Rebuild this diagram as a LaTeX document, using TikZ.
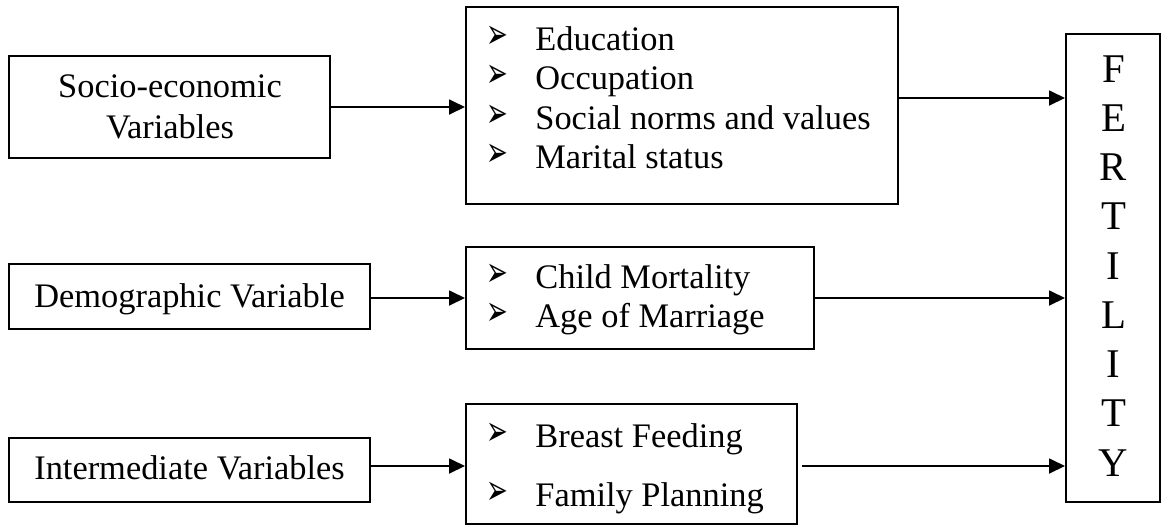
\documentclass[tikz,border=0pt]{standalone}
\usepackage{fontspec}
\usepackage{graphicx}
\setmainfont{Liberation Serif}
\newfontfamily\dejavu{DejaVu Sans}
\usetikzlibrary{arrows.meta,fit}
\begin{document}
\begin{tikzpicture}[x=0.5pt,y=-0.5pt,
  box/.style={draw, line width=1pt, inner sep=0pt, rectangle},
  txt/.style={anchor=base, inner sep=0pt, font=\fontsize{17.2pt}{19.8pt}\selectfont},
  ltxt/.style={txt, anchor=base west},
  bul/.style={inner sep=0pt, anchor=center, font=\dejavu\fontsize{10pt}{12pt}\selectfont},
  arr/.style={-{Triangle[length=8pt,width=7.5pt]}, line width=0.9pt},
  fert/.style={anchor=base, inner sep=0pt, font=\fontsize{20.4pt}{24pt}\selectfont}]
\useasboundingbox (0,0) rectangle (1162,527);
% boxes
\node[box, fit={(9,56) (330,158)}] (A) {};
\node[box, fit={(466,7) (898,204)}] (B) {};
\node[box, fit={(9,264) (370,329)}] (D) {};
\node[box, fit={(466,247) (814,349)}] (E) {};
\node[box, fit={(9,438) (370,502)}] (I) {};
\node[box, fit={(466,404) (797,524)}] (H) {};
\node[box, fit={(1066,34) (1160,502)}] (F) {};
% left texts
\node[txt] (a1) at (170,97) {Socio-economic};
\node[txt] (a2) at (170,138) {Variables};
\node[txt] (d1) at (189.5,307) {Demographic Variable};
\node[txt] (i1) at (189.5,479) {Intermediate Variables};
% list B
\foreach \t/\y [count=\k] in {Education/50, Occupation/89, Social norms and values/129, Marital status/168}{
  \node[bul] (bb\k) at (497,\y-13) {\scalebox{1.3}[2.1]{➢}};
  \node[ltxt] (bt\k) at (535,\y) {\t};
}
% list E
\foreach \t/\y [count=\k] in {Child Mortality/288, Age of Marriage/327}{
  \node[bul] (eb\k) at (497,\y-13) {\scalebox{1.3}[2.1]{➢}};
  \node[ltxt] (et\k) at (535,\y) {\t};
}
% list H
\foreach \t/\y [count=\k] in {Breast Feeding/447, Family Planning/506}{
  \node[bul] (hb\k) at (497,\y-13) {\scalebox{1.3}[2.1]{➢}};
  \node[ltxt] (ht\k) at (535,\y) {\t};
}
% FERTILITY
\foreach \l [count=\i] in {F,E,R,T,I,L,I,T,Y}
  \node[fert] (f\i) at (1113.5,{82+49.25*(\i-1)}) {\l};
% arrows
\draw[arr] (A.east) -- (A.east -| B.west);
\draw[arr] ([yshift=3.75pt]B.east) -- ([yshift=3.75pt]B.east -| F.west);
\draw[arr] ([yshift=-0.75pt]D.east) -- ([yshift=-0.75pt]D.east -| E.west);
\draw[arr] (E.east) -- (E.east -| F.west);
\draw[arr] ([yshift=2pt]I.east) -- ([yshift=2pt]I.east -| H.west);
\draw[arr] ([xshift=2pt,yshift=-1pt]H.east) -- ([yshift=-1pt]H.east -| F.west);
\end{tikzpicture}
\end{document}
